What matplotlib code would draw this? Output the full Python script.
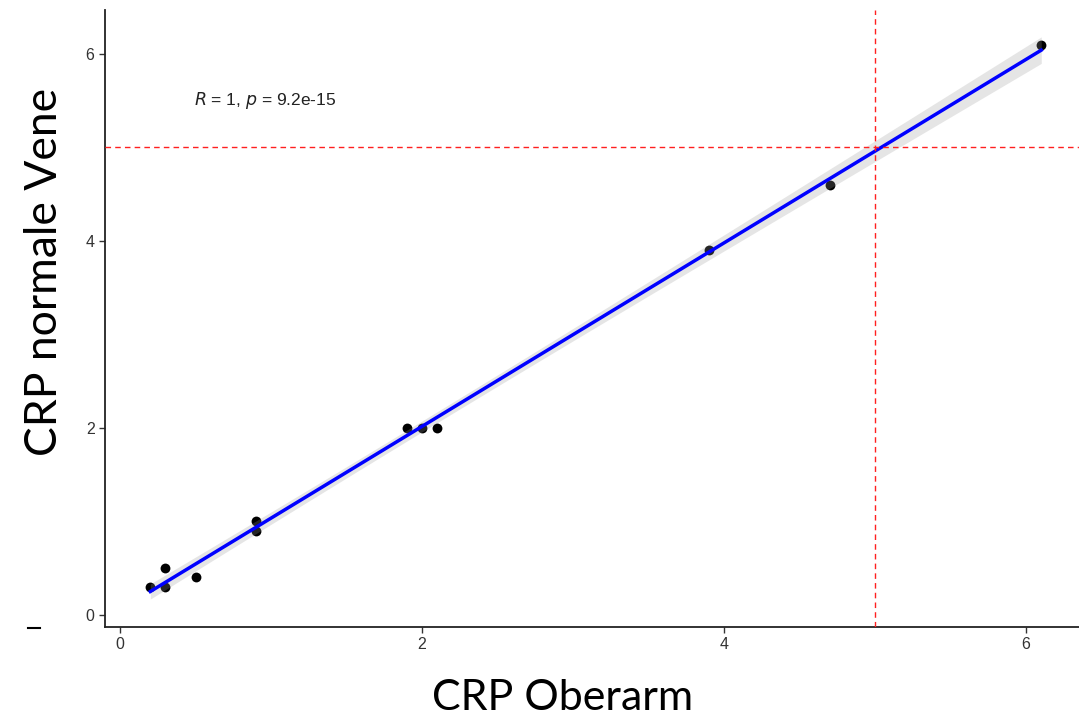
import numpy as np
import matplotlib
matplotlib.use("Agg")
import matplotlib.pyplot as plt
from matplotlib.lines import Line2D

# data
crp_oberarm = [0.2, 0.3, 0.3, 0.5, 0.9, 0.9, 1.9, 2.0, 2.1, 3.9, 4.7, 6.1]
crp_vene = [0.3, 0.5, 0.3, 0.4, 1.0, 0.9, 2.0, 2.0, 2.0, 3.9, 4.6, 6.1]
cutoff = 5
x_ticks = [0, 2, 4, 6]
y_ticks = [0, 2, 4, 6]

x = np.array(crp_oberarm)
y = np.array(crp_vene)

# linear fit + 95% confidence band (like geom_smooth(method="lm"))
slope, intercept = np.polyfit(x, y, 1)
xs = np.linspace(x.min(), x.max(), 100)
ys = slope * xs + intercept
n = len(x)
resid = y - (slope * x + intercept)
s = np.sqrt(np.sum(resid ** 2) / (n - 2))
se = s * np.sqrt(1 / n + (xs - x.mean()) ** 2 / np.sum((x - x.mean()) ** 2))
t = 2.228  # t(0.975, df=10)

fig = plt.figure(figsize=(10.79, 7.16), dpi=100)
ax = fig.add_axes([105 / 1079, 1 - 627 / 716, (1079 - 105) / 1079, (627 - 10) / 716])

ax.scatter(x, y, s=50, color="black", zorder=2, linewidths=0)
ax.fill_between(xs, ys - t * se, ys + t * se, color="#999999", alpha=0.25, lw=0, zorder=3)
ax.plot(xs, ys, color="blue", lw=2.5, zorder=4)

ax.axhline(cutoff, color="#FF2020", ls=(0, (4, 3)), lw=1, zorder=5)
ax.axvline(cutoff, color="#FF2020", ls=(0, (4, 3)), lw=1, zorder=5)

ax.text(0.49, 5.5, r"$\it{R}$ = 1, $\it{p}$ = 9.2e-15", fontsize=12.5,
        family="Liberation Sans", color="#222222", va="center")

ax.set_xlim(-0.1, 6.35)
ax.set_ylim(-0.13, 6.47)
ax.set_xticks(x_ticks)
ax.set_yticks(y_ticks)
for sp in ["top", "right"]:
    ax.spines[sp].set_visible(False)
for sp in ["left", "bottom"]:
    ax.spines[sp].set_linewidth(1.3)
    ax.spines[sp].set_color("#222222")
ax.tick_params(length=4, width=1, color="#333333", labelsize=11.5, labelcolor="#333333")
for lab in ax.get_xticklabels() + ax.get_yticklabels():
    lab.set_family("Liberation Sans")

ax.set_xlabel("CRP Oberarm", fontsize=31, family="Lato")
ax.set_ylabel("CRP normale Vene", fontsize=32, family="Lato")
ax.xaxis.set_label_coords(0.47, -0.085)
ax.yaxis.set_label_coords(-0.041, 0.575)

# small stray dash left of the axes
fig.add_artist(Line2D([28 / 1079, 40 / 1079], [1 - 628 / 716, 1 - 628 / 716], color="black", lw=1.5))

fig.savefig("out.png", dpi=100)
